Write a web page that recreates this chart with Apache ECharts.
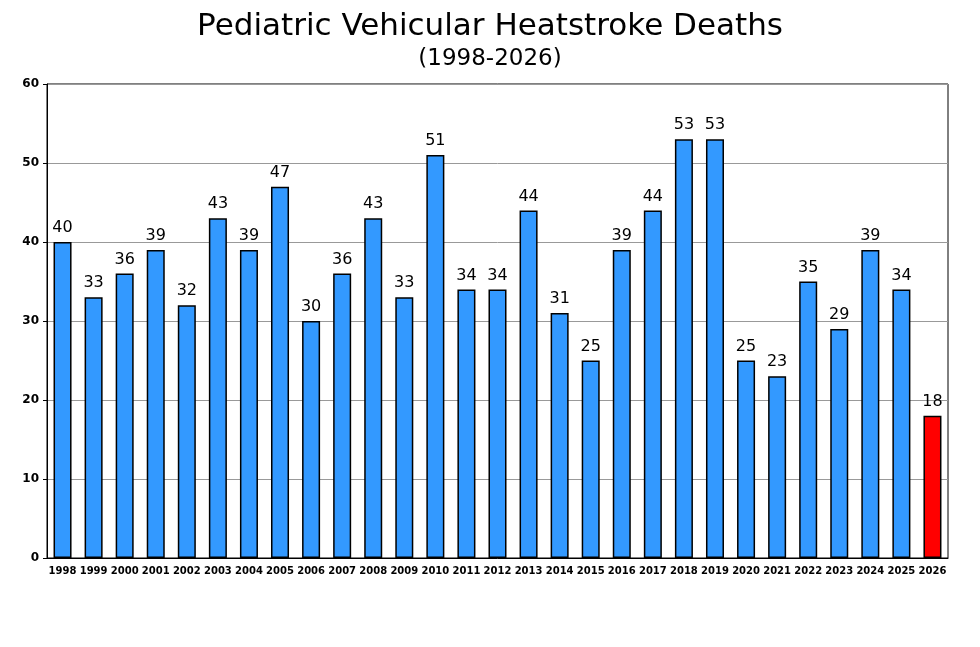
<!DOCTYPE html>
<html><head><meta charset="utf-8">
<script src="https://cdn.jsdelivr.net/npm/echarts@6/dist/echarts.min.js"></script>
<style>body{margin:0;background:#fff}#main{width:980px;height:647px}</style>
</head><body><div id="main"></div>
<script>
var years = ['1998','1999','2000','2001','2002','2003','2004','2005','2006','2007','2008','2009','2010','2011','2012','2013','2014','2015','2016','2017','2018','2019','2020','2021','2022','2023','2024','2025','2026'];
var deaths = [40,33,36,39,32,43,39,47,30,36,43,33,51,34,34,44,31,25,39,44,53,53,25,23,35,29,39,34,18];
var highlightYear = '2026';

var chart = echarts.init(document.getElementById('main'));
var option = {
	title: {
		text: 'Pediatric Vehicular Heatstroke Deaths',
		subtext: '(1998-2026)',
		left: 'center', top: 6, itemGap: 6,
		textStyle: {fontFamily: 'DejaVu Sans', fontSize: 31, fontWeight: 'normal', color: '#000'},
		subtextStyle: {fontFamily: 'DejaVu Sans', fontSize: 23, color: '#000'}
	},
	grid: {left: 47, right: 32, top: 84, bottom: 89, show: true, borderColor: '#000', borderWidth: 1},
	xAxis: {
		type: 'category', data: years,
		axisLine: {lineStyle: {color: '#000'}},
		axisTick: {show: false},
		axisLabel: {interval: 0, fontFamily: 'DejaVu Sans', fontSize: 10, fontWeight: 'bold', color: '#000', margin: 8}
	},
	yAxis: {
		type: 'value', min: 0, max: 60, interval: 10,
		axisLine: {show: true, lineStyle: {color: '#000'}},
		axisTick: {show: true, length: 4, lineStyle: {color: '#000'}},
		splitLine: {lineStyle: {color: '#999'}},
		axisLabel: {fontFamily: 'DejaVu Sans', fontSize: 12, fontWeight: 'bold', color: '#000'}
	},
	series: [{
		type: 'bar', barCategoryGap: '42%',
		data: deaths.map(function (v, i) {
			return {value: v, itemStyle: {color: years[i] === highlightYear ? '#FF0000' : '#3399FF'}};
		}),
		itemStyle: {borderColor: '#000', borderWidth: 1.5},
		label: {show: true, position: 'top', distance: 6, fontFamily: 'DejaVu Sans', fontSize: 16, color: '#000'}
	}]
};
chart.setOption(option);
</script></body></html>
